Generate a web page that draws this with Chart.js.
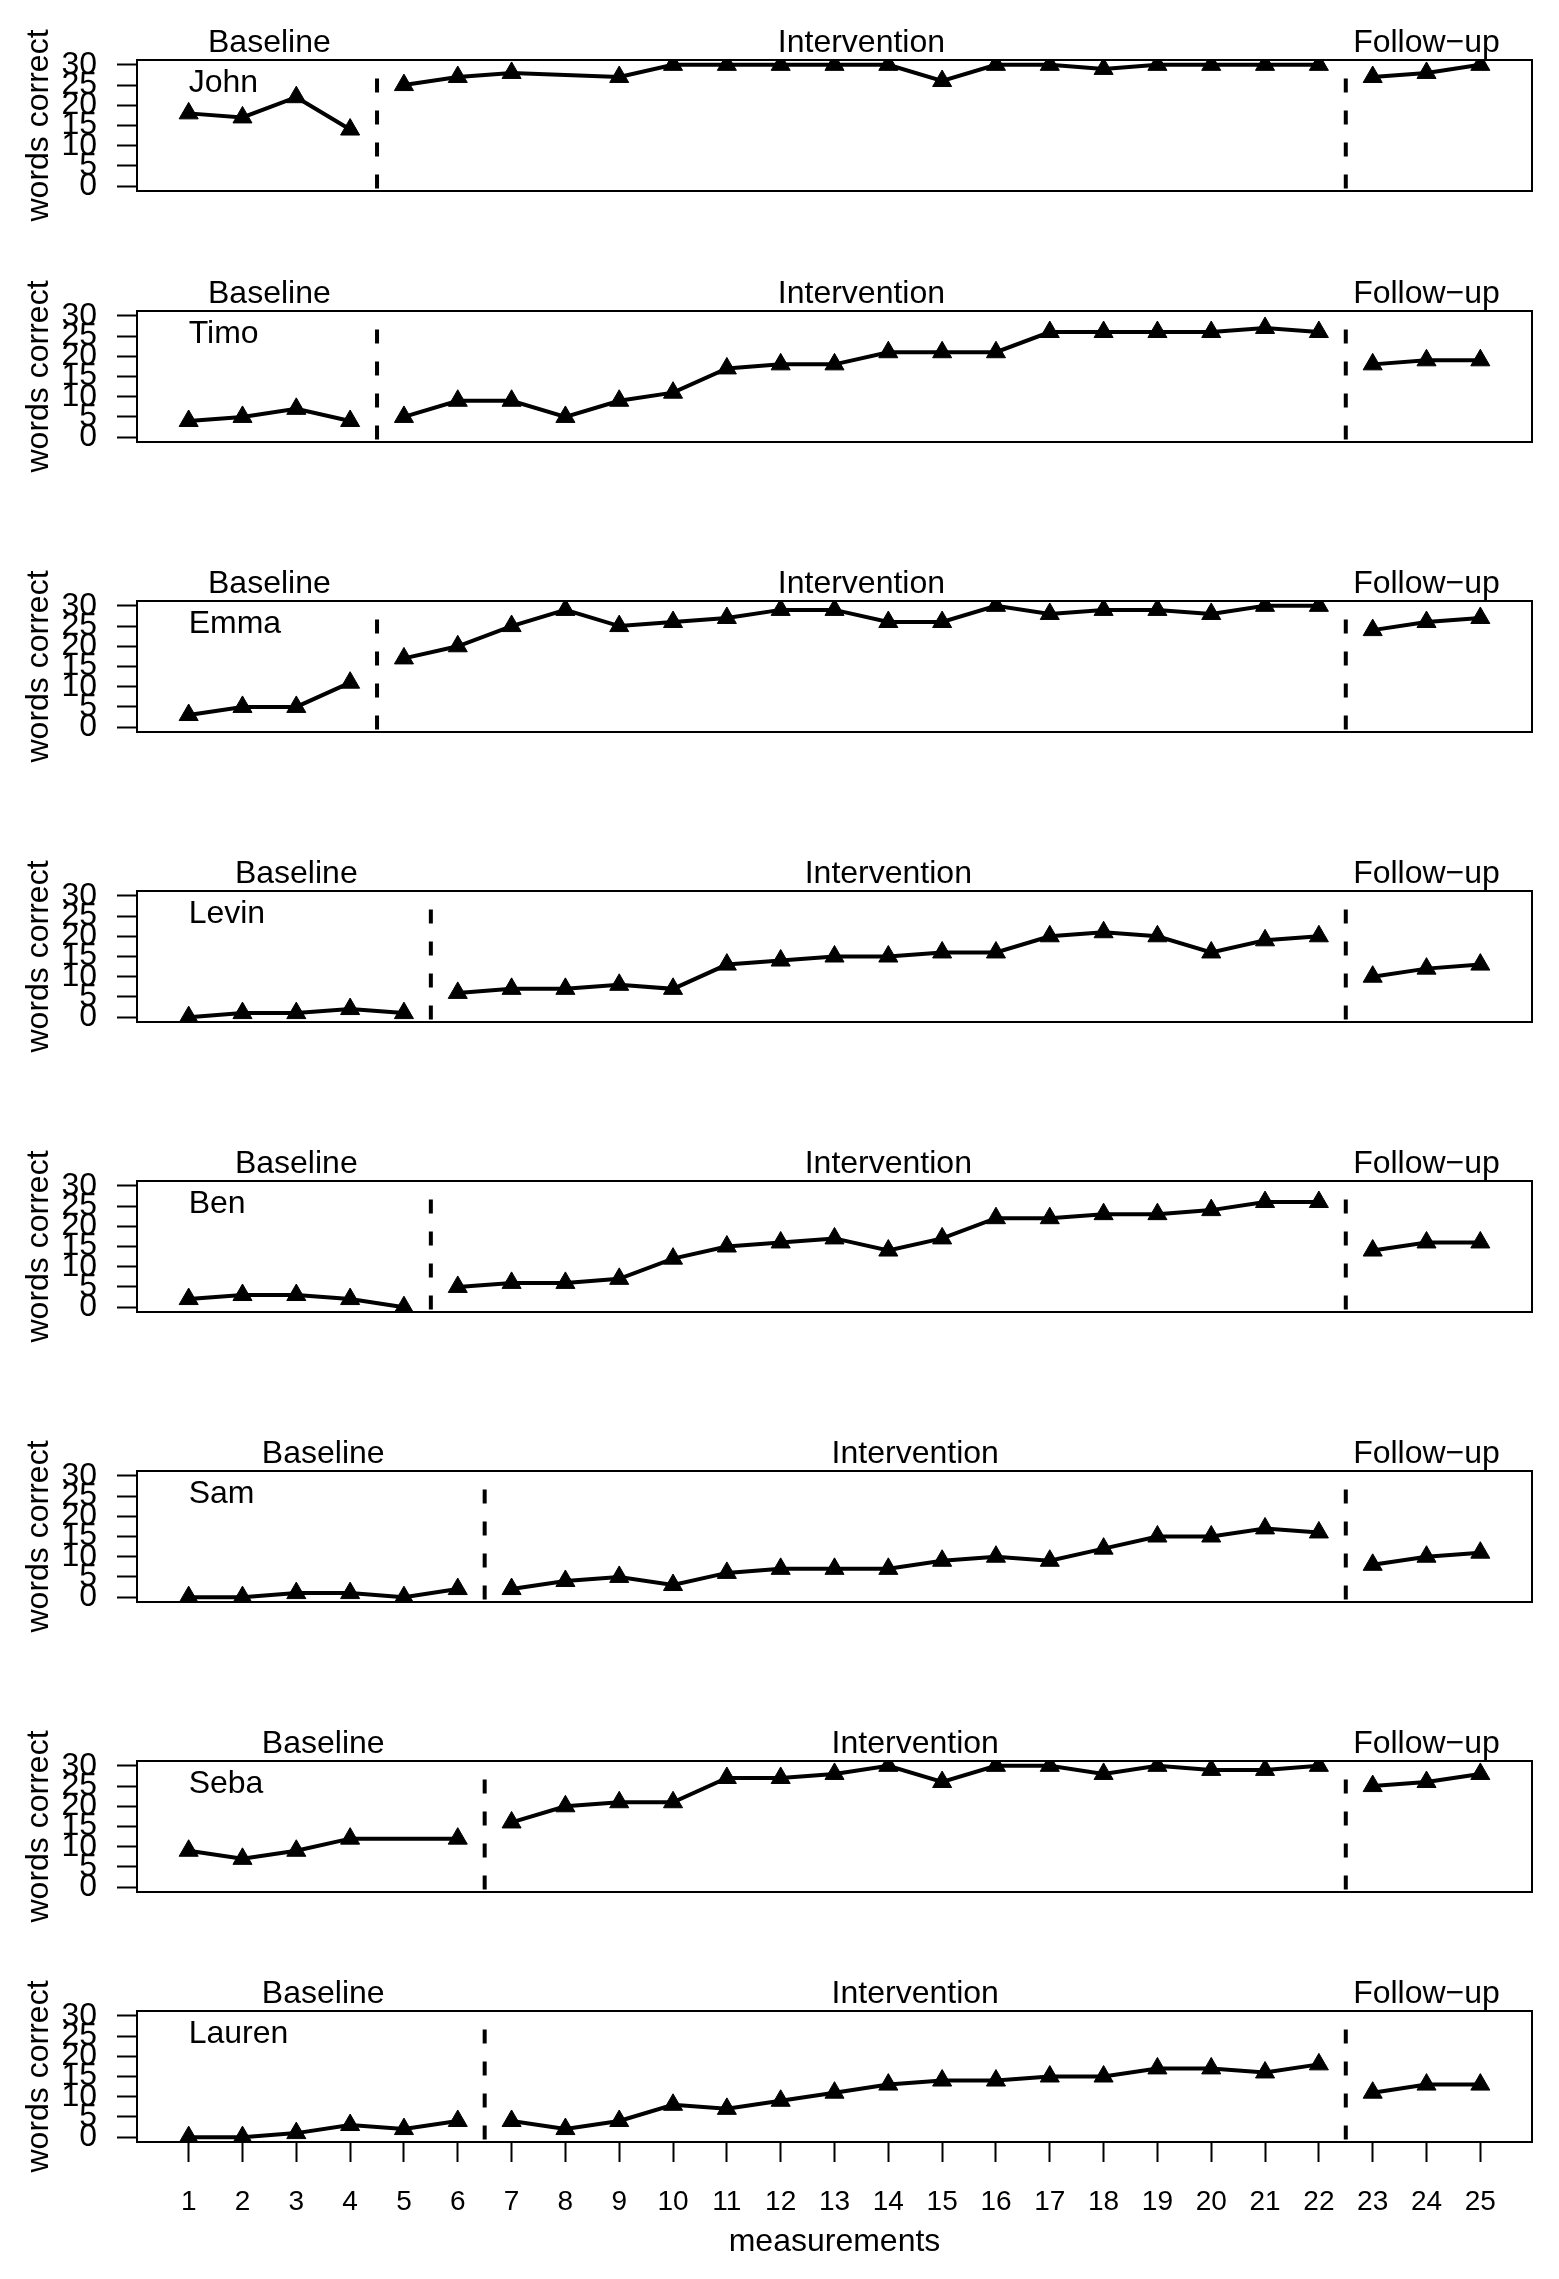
<!DOCTYPE html>
<html>
<head>
<meta charset="utf-8">
<script src="https://cdn.jsdelivr.net/npm/chart.js@4/dist/chart.umd.min.js"></script>
<style>
	body { margin: 0; background: #fff; }
	#wrap { position: relative; width: 1559px; height: 2279px; }
	#wrap canvas { position: absolute; left: 0; }
</style>
</head>
<body>
<div id="wrap"></div>
<script>
// words correct per measurement (1..25), null = not measured
var names = ['John', 'Timo', 'Emma', 'Levin', 'Ben', 'Sam', 'Seba', 'Lauren'];
var baselineEnd = [4, 4, 4, 5, 5, 6, 6, 6];
var interventionEnd = 22;
var john   = [18, 17, 22, 14, 25, 27, 28, null, 27, 30, 30, 30, 30, 30, 26, 30, 30, 29, 30, 30, 30, 30, 27, 28, 30];
var timo   = [4, 5, 7, 4, 5, 9, 9, 5, 9, 11, 17, 18, 18, 21, 21, 21, 26, 26, 26, 26, 27, 26, 18, 19, 19];
var emma   = [3, 5, 5, 11, 17, 20, 25, 29, 25, 26, 27, 29, 29, 26, 26, 30, 28, 29, 29, 28, 30, 30, 24, 26, 27];
var levin  = [0, 1, 1, 2, 1, 6, 7, 7, 8, 7, 13, 14, 15, 15, 16, 16, 20, 21, 20, 16, 19, 20, 10, 12, 13];
var ben    = [2, 3, 3, 2, 0, 5, 6, 6, 7, 12, 15, 16, 17, 14, 17, 22, 22, 23, 23, 24, 26, 26, 14, 16, 16];
var sam    = [0, 0, 1, 1, 0, 2, 2, 4, 5, 3, 6, 7, 7, 7, 9, 10, 9, 12, 15, 15, 17, 16, 8, 10, 11];
var seba   = [9, 7, 9, 12, null, 12, 16, 20, 21, 21, 27, 27, 28, 30, 26, 30, 30, 28, 30, 29, 29, 30, 25, 26, 28];
var lauren = [0, 0, 1, 3, 2, 4, 4, 2, 4, 8, 7, 9, 11, 13, 14, 14, 15, 15, 17, 17, 16, 18, 11, 13, 13];
var series = [john, timo, emma, levin, ben, sam, seba, lauren];

var phaseLabels = ['Baseline', 'Intervention', 'Follow\u2212up'];
var xTicks = [1, 2, 3, 4, 5, 6, 7, 8, 9, 10, 11, 12, 13, 14, 15, 16, 17, 18, 19, 20, 21, 22, 23, 24, 25];
var yTicks = [0, 5, 10, 15, 20, 25, 30];
var dividerTop = 26.6;

// panel box tops on the page
var boxTops = [60, 311, 601, 891, 1181, 1471, 1761, 2011];

Chart.defaults.font.family = '"Liberation Sans", Arial, sans-serif';
Chart.defaults.color = '#000';

var panelText = {
	id: 'panelText',
	afterDatasetsDraw: function(chart, args, opts) {
		var ctx = chart.ctx, a = chart.chartArea, x = chart.scales.x;
		ctx.save();
		ctx.strokeStyle = '#000';
		ctx.lineWidth = 2;
		ctx.strokeRect(a.left, a.top, a.right - a.left, a.bottom - a.top);
		ctx.fillStyle = '#000';
		ctx.font = '32px "Liberation Sans", Arial, sans-serif';
		ctx.textBaseline = 'alphabetic';
		ctx.textAlign = 'center';
		for (var i = 0; i < opts.phases.length; i++) {
			ctx.fillText(opts.phases[i].label, x.getPixelForValue(opts.phases[i].mid), a.top - 8);
		}
		ctx.textAlign = 'left';
		ctx.fillText(opts.name, x.getPixelForValue(1), a.top + 32);
		ctx.restore();
	}
};

function points(values, from, to) {
	var pts = [];
	for (var i = from; i <= to; i++) {
		if (values[i - 1] !== null) pts.push({x: i, y: values[i - 1]});
	}
	return pts;
}

function lineSet(pts) {
	return {
		data: pts,
		borderColor: '#000',
		backgroundColor: '#000',
		borderWidth: 4,
		pointStyle: 'triangle',
		pointRadius: 11,
		pointBorderWidth: 1,
		clip: 0
	};
}

function dividerSet(xv) {
	return {
		data: [{x: xv, y: dividerTop}, {x: xv, y: -1.2}],
		borderColor: '#000',
		borderWidth: 4,
		borderDash: [14, 18],
		pointRadius: 0,
		clip: 0
	};
}

var wrap = document.getElementById('wrap');

for (var p = 0; p < names.length; p++) {
	var last = (p === names.length - 1);
	var b = baselineEnd[p];
	var vals = series[p];
	var canvas = document.createElement('canvas');
	var h = last ? 2279 - (boxTops[p] - 60) : 231;
	canvas.width = 1559;
	canvas.height = h;
	canvas.style.top = (boxTops[p] - 60) + 'px';
	wrap.appendChild(canvas);

	new Chart(canvas, {
		type: 'line',
		data: {
			datasets: [
				lineSet(points(vals, 1, b)),
				lineSet(points(vals, b + 1, interventionEnd)),
				lineSet(points(vals, interventionEnd + 1, 25)),
				dividerSet(b + 0.5),
				dividerSet(interventionEnd + 0.5)
			]
		},
		options: {
			responsive: false,
			animation: false,
			events: [],
			layout: {padding: {top: 60, right: 27, bottom: last ? 0 : 40, left: 0}},
			plugins: {
				legend: {display: false},
				tooltip: {enabled: false},
				panelText: {
					name: names[p],
					phases: [
						{label: phaseLabels[0], mid: (1 + b) / 2},
						{label: phaseLabels[1], mid: (b + 1 + interventionEnd) / 2},
						{label: phaseLabels[2], mid: (interventionEnd + 1 + 25) / 2}
					]
				}
			},
			scales: {
				x: {
					type: 'linear',
					min: 0.04,
					max: 25.96,
					display: last,
					afterBuildTicks: function(s) { s.ticks = xTicks.map(function(v) { return {value: v}; }); },
					afterFit: function(s) { if (s.options.display) s.height = 137; },
					ticks: {autoSkip: false, maxRotation: 0, padding: 23, font: {size: 28}},
					grid: {drawOnChartArea: false, drawTicks: true, tickLength: 20, tickWidth: 2, tickColor: '#000'},
					border: {display: false},
					title: {display: true, text: 'measurements', font: {size: 32}, padding: {top: 0, bottom: 18}}
				},
				y: {
					min: -1.2,
					max: 31.2,
					afterBuildTicks: function(s) { s.ticks = yTicks.map(function(v) { return {value: v}; }); },
					afterFit: function(s) { s.width = 137; },
					ticks: {autoSkip: false, padding: 20, font: {size: 32}},
					grid: {drawOnChartArea: false, drawTicks: true, tickLength: 20, tickWidth: 2, tickColor: '#000'},
					border: {display: false},
					title: {display: true, text: 'words correct', font: {size: 32}, padding: {top: 20, bottom: 0}}
				}
			}
		},
		plugins: [panelText]
	});
}
</script>
</body>
</html>
